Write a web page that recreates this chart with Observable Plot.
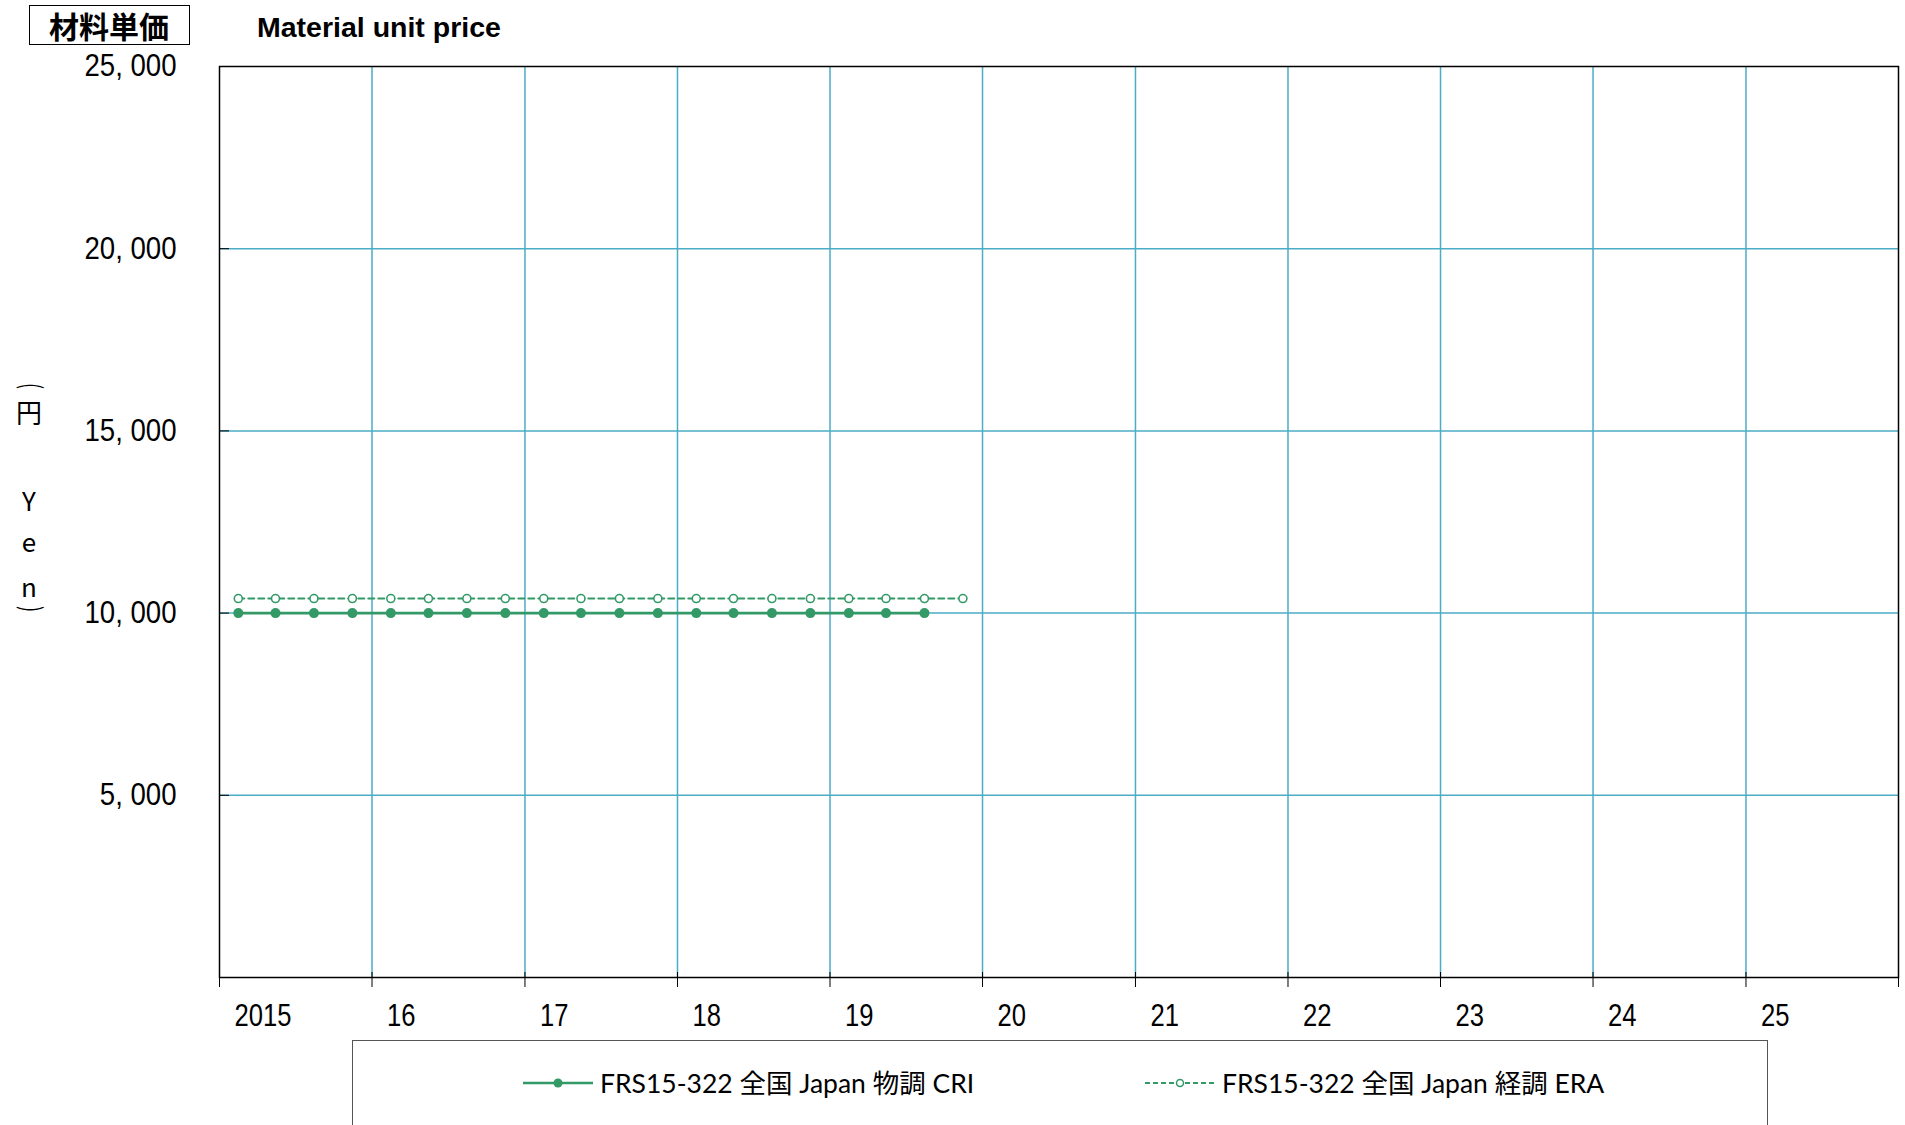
<!DOCTYPE html>
<html>
<head>
<meta charset="utf-8">
<script src="https://cdn.jsdelivr.net/npm/d3@7"></script>
<script src="https://cdn.jsdelivr.net/npm/@observablehq/plot@0.6"></script>
<style>
html, body { margin: 0; padding: 0; background: #fff; overflow: hidden; }
#page { position: relative; width: 1905px; height: 1125px; overflow: hidden; background: #fff; }
#chart { position: absolute; left: 0; top: 0; }
.abs { position: absolute; white-space: nowrap; line-height: 1; }
.c { transform: translate(-50%, -50%); }
.vm { transform: translateY(-50%); }
</style>
</head>
<body>
<div id="page">
  <div id="chart"></div>
  <div class="abs" style="left:29px;top:5px;width:159px;height:38px;border:1.5px solid #000;"></div>
  <div class="abs c" style="left:109px;top:25px;font-family:'Noto Sans CJK JP',sans-serif;font-weight:700;font-size:30px;color:#000;">材料単価</div>
  <div class="abs vm" style="left:257px;top:27px;font-family:'Liberation Sans',Arial,sans-serif;font-weight:700;font-size:28.5px;color:#000;">Material unit price</div>
  <div id="ylab"></div>
  <div class="abs" style="left:352px;top:1040px;width:1414px;height:120px;border:1.5px solid #555;"></div>
  <div id="legend"></div>
</div>
<script>
// ---- data ----
const periods = ["2015-02-15","2015-05-15","2015-08-15","2015-11-15",
                 "2016-02-15","2016-05-15","2016-08-15","2016-11-15",
                 "2017-02-15","2017-05-15","2017-08-15","2017-11-15",
                 "2018-02-15","2018-05-15","2018-08-15","2018-11-15",
                 "2019-02-15","2019-05-15","2019-08-15","2019-11-15"];
const criValues = [10000,10000,10000,10000,10000,10000,10000,10000,10000,10000,
                   10000,10000,10000,10000,10000,10000,10000,10000,10000,null];
const eraValues = [10400,10400,10400,10400,10400,10400,10400,10400,10400,10400,
                   10400,10400,10400,10400,10400,10400,10400,10400,10400,10400];
const seriesNames = ["FRS15-322 全国 Japan 物調 CRI", "FRS15-322 全国 Japan 経調 ERA"];
const yearTicks = ["2015-01-01","2016-01-01","2017-01-01","2018-01-01","2019-01-01","2020-01-01",
                   "2021-01-01","2022-01-01","2023-01-01","2024-01-01","2025-01-01","2026-01-01"];
const xLabels = ["2015","16","17","18","19","20","21","22","23","24","25",""];
const yTickValues = [0, 5000, 10000, 15000, 20000, 25000];
const yLabels = ["", "5, 000", "10, 000", "15, 000", "20, 000", "25, 000"];
const yTitleChars = ["(","円","Y","e","n",")"];

// ---- styles ----
const green = "#339966";
const gridColor = "#4bacc6";
const labelFont = "'Liberation Sans',Arial,sans-serif";

const data = periods.map((p, i) => ({date: new Date(p), cri: criValues[i], era: eraValues[i]}));
const yearDates = yearTicks.map(s => new Date(s));
const x0 = yearDates[0];

const chart = Plot.plot({
  width: 1905,
  height: 1035,
  marginLeft: 219,
  marginRight: 7,
  marginTop: 66,
  marginBottom: 58,
  style: {background: "transparent", overflow: "visible"},
  x: {type: "utc", domain: [yearDates[0], yearDates[yearDates.length - 1]], axis: null},
  y: {domain: [0, 25000], axis: null},
  marks: [
    Plot.gridX(yearDates.slice(1, -1), {stroke: gridColor, strokeOpacity: 1, strokeWidth: 1.5}),
    Plot.gridY(yTickValues.slice(1, -1), {stroke: gridColor, strokeOpacity: 1, strokeWidth: 1.5}),
    Plot.ruleX(yearDates, {x: d => d, y1: 0, y2: 0, insetTop: -5, insetBottom: -10, stroke: "#000", strokeWidth: 1}),
    Plot.ruleY(yTickValues, {y: d => d, x1: x0, x2: x0, insetRight: -10, stroke: "#000", strokeWidth: 1}),
    Plot.frame({stroke: "#000", strokeWidth: 1.5}),
    Plot.text(yearDates, {x: d => d, text: (d, i) => xLabels[i], frameAnchor: "bottom", dy: 38, dx: 15,
      textAnchor: "start", lineAnchor: "middle", fontSize: 32, fontFamily: labelFont, fill: "#000"}),
    Plot.text(yTickValues, {y: d => d, text: (d, i) => yLabels[i], frameAnchor: "left", dx: -43,
      textAnchor: "end", lineAnchor: "middle", fontSize: 31, fontFamily: labelFont, fill: "#000"}),
    Plot.line(data, {x: "date", y: "era", stroke: green, strokeWidth: 2, strokeDasharray: "6,4"}),
    Plot.dot(data, {x: "date", y: "era", r: 4, fill: "#fff", stroke: green, strokeWidth: 1.6}),
    Plot.line(data, {x: "date", y: "cri", stroke: green, strokeWidth: 2.6}),
    Plot.dot(data, {x: "date", y: "cri", r: 5, fill: green, stroke: "none"})
  ]
});
document.getElementById("chart").appendChild(chart);

// narrow the tick-label glyphs horizontally (reference uses a condensed face)
d3.select(chart).selectAll("text").each(function() {
  const t = this.textContent;
  let s = null;
  if (t && xLabels.includes(t)) s = 0.8;
  else if (t && yLabels.includes(t)) s = 0.89;
  if (s == null) return;
  let tr = this.getAttribute("transform");
  if (tr == null) {
    const x = this.getAttribute("x") || 0, y = this.getAttribute("y") || 0;
    this.removeAttribute("x"); this.removeAttribute("y");
    tr = `translate(${x},${y})`;
  }
  this.setAttribute("transform", tr + ` scale(${s},1)`);
});

// y-axis title (vertical)
const yPos = [386, 412, 500, 541, 586, 609];
const ylab = document.getElementById("ylab");
yTitleChars.forEach((ch, i) => {
  const s = document.createElement("div");
  s.className = "abs";
  s.style.left = "29px";
  s.style.top = yPos[i] + "px";
  s.style.fontFamily = "'Noto Sans CJK JP',sans-serif";
  s.style.fontSize = "26px";
  s.style.color = "#000";
  const isParen = (i === 0 || i === yTitleChars.length - 1);
  s.style.transform = "translate(-50%, -50%)" + (isParen ? " translate(5px,0) rotate(90deg) scale(0.7,1.05)" : "");
  s.textContent = ch;
  ylab.appendChild(s);
});

// legend
const legend = document.getElementById("legend");
const items = [
  {x: 523, tx: 600, dash: null, open: false, r: 4.5, w: 2.6},
  {x: 1145, tx: 1222, dash: "5,3", open: true, r: 3.5, w: 2}
];
items.forEach((it, i) => {
  const svg = d3.create("svg").attr("width", 72).attr("height", 20)
    .style("position", "absolute").style("left", it.x + "px").style("top", "1073px");
  svg.append("line").attr("x1", 0).attr("x2", 70).attr("y1", 10).attr("y2", 10)
    .attr("stroke", green).attr("stroke-width", it.w).attr("stroke-dasharray", it.dash);
  svg.append("circle").attr("cx", 35).attr("cy", 10).attr("r", it.r)
    .attr("fill", it.open ? "#fff" : green).attr("stroke", green).attr("stroke-width", it.open ? 1.5 : 0);
  legend.appendChild(svg.node());
  const t = document.createElement("div");
  t.className = "abs vm";
  t.style.left = it.tx + "px";
  t.style.top = "1083px";
  t.style.fontFamily = "Lato,'Noto Sans CJK JP',sans-serif";
  t.style.fontSize = "26.5px";
  t.style.color = "#000";
  t.textContent = seriesNames[i];
  legend.appendChild(t);
});
</script>
</body>
</html>
